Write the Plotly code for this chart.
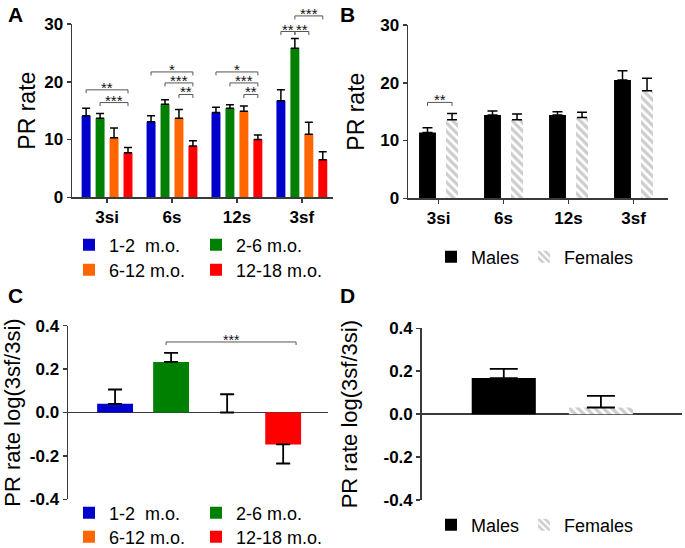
import plotly.graph_objects as go

W, H = 685, 548
FONT = "Liberation Sans, Arial, sans-serif"

# ---------------- data ----------------
sessions = ["3si", "6s", "12s", "3sf"]
age_groups = ["1-2\u00a0 m.o.", "2-6 m.o.", "6-12 m.o.", "12-18 m.o."]
age_colors = ["#0000CC", "#008000", "#FF6600", "#FF0000"]

# Panel A: PR rate per session for each age group (mean, SEM)
a_rate_1_2 = [14.1, 13.1, 14.7, 16.7]
a_err_1_2 = [1.3, 1.0, 0.9, 1.9]
a_rate_2_6 = [13.7, 16.1, 15.4, 25.8]
a_err_2_6 = [0.8, 0.8, 0.6, 1.7]
a_rate_6_12 = [10.3, 13.7, 14.9, 10.9]
a_err_6_12 = [1.7, 1.5, 0.9, 2.1]
a_rate_12_18 = [7.7, 8.9, 10.0, 6.5]
a_err_12_18 = [0.9, 0.9, 0.8, 1.4]

# Panel B: PR rate per session by sex
sexes = ["Males", "Females"]
b_males = [11.4, 14.4, 14.4, 20.5]
b_males_err = [0.8, 0.7, 0.6, 1.6]
b_females = [13.6, 13.6, 14.0, 18.6]
b_females_err = [1.1, 1.0, 0.9, 2.2]

# Panel C: log(3sf/3si) by age group
c_ratio = [0.04, 0.233, 0.0, -0.147]
c_err = [0.066, 0.042, 0.084, 0.088]

# Panel D: log(3sf/3si) by sex
d_ratio = [0.168, 0.031]
d_err = [0.043, 0.054]

# significance: (session index, group from, group to, bracket level, label)
a_sig = [
    (0, 0, 3, 18.6, "**"), (0, 1, 3, 16.4, "***"),
    (1, 0, 3, 21.7, "*"), (1, 1, 3, 19.8, "***"), (1, 2, 3, 17.8, "**"),
    (2, 0, 3, 21.7, "*"), (2, 1, 3, 19.8, "***"), (2, 2, 3, 17.8, "**"),
    (3, 0, 1, 28.7, "**"), (3, 1, 2, 28.7, "**"), (3, 1, 3, 31.4, "***"),
]
b_sig = [(0, 16.6, "**")]
c_sig = [(0.91, 3.23, 0.325, "***")]

RATE_RANGE = [0, 30]
RATIO_RANGE = [-0.4, 0.4]

# ---------------- helpers ----------------
def px(xp):
    return xp / W

def py(yp):
    return 1 - yp / H

def dom_frac(v, rng):
    return (v - rng[0]) / (rng[1] - rng[0])

AX = "#3a3a3a"
HATCH = dict(shape="\\", fgcolor="#9C9C9C", bgcolor="white", size=6,
             solidity=0.55, fillmode="overlay")

fig = go.Figure()

# ---------------- Panel A ----------------
A_START, A_SLOT, A_BW = -0.43, 0.215, 0.138
a_series = [(a_rate_1_2, a_err_1_2), (a_rate_2_6, a_err_2_6),
            (a_rate_6_12, a_err_6_12), (a_rate_12_18, a_err_12_18)]
a_center = []
for g, (vals, errs) in enumerate(a_series):
    off = A_START + A_SLOT * g + (A_SLOT - A_BW) / 2
    a_center.append(off + A_BW / 2)
    fig.add_trace(go.Bar(
        x=sessions, y=vals, width=A_BW, offset=off, name=age_groups[g],
        marker=dict(color=age_colors[g], line_width=0),
        error_y=dict(type="data", symmetric=False, array=errs,
                     arrayminus=[0] * len(errs), color="black",
                     thickness=1.5, width=4),
        xaxis="x", yaxis="y", legend="legend" if g < 2 else "legend2"))

# ---------------- Panel B ----------------
B_M_OFF, B_M_W = -0.30, 0.26
B_F_OFF, B_F_W = 0.115, 0.185
fig.add_trace(go.Bar(
    x=sessions, y=b_males, width=B_M_W, offset=B_M_OFF, name=sexes[0],
    marker=dict(color="black", line_width=0),
    error_y=dict(type="data", symmetric=False, array=b_males_err,
                 arrayminus=[0] * 4, color="black", thickness=1.5, width=5),
    xaxis="x2", yaxis="y2", legend="legend3"))
fig.add_trace(go.Bar(
    x=sessions, y=b_females, width=B_F_W, offset=B_F_OFF, name=sexes[1],
    marker=dict(color="white", line_width=0, pattern=HATCH),
    error_y=dict(type="data", symmetric=False, array=b_females_err,
                 arrayminus=[0] * 4, color="black", thickness=1.5, width=5),
    xaxis="x2", yaxis="y2", legend="legend3"))

# ---------------- Panel C ----------------
C_BW = 0.64
for g in range(4):
    v, e = c_ratio[g], c_err[g]
    up, down = (e, 0) if v >= 0 else (0, e)
    fig.add_trace(go.Bar(
        x=[age_groups[g]], y=[v], width=C_BW, offset=-C_BW / 2,
        name=age_groups[g], marker=dict(color=age_colors[g], line_width=0),
        error_y=dict(type="data", symmetric=False, array=[up],
                     arrayminus=[down], color="black", thickness=1.8, width=7),
        xaxis="x3", yaxis="y3", legend="legend4" if g < 2 else "legend5"))

# ---------------- Panel D ----------------
D_BW = 0.66
fig.add_trace(go.Bar(
    x=[sexes[0]], y=[d_ratio[0]], width=D_BW, offset=-D_BW / 2, name=sexes[0],
    marker=dict(color="black", line_width=0),
    error_y=dict(type="data", symmetric=False, array=[d_err[0]],
                 arrayminus=[0], color="black", thickness=1.8, width=14),
    xaxis="x4", yaxis="y4", legend="legend6"))
fig.add_trace(go.Bar(
    x=[sexes[1]], y=[d_ratio[1]], width=D_BW, offset=-D_BW / 2, name=sexes[1],
    marker=dict(color="white", line_width=0, pattern=HATCH),
    error_y=dict(type="data", symmetric=False, array=[d_err[1]],
                 arrayminus=[0], color="black", thickness=1.8, width=14),
    xaxis="x4", yaxis="y4", legend="legend6"))

# ---------------- significance brackets ----------------
shapes = []
annotations = []
SIG_C = "#555555"

def bracket(xref, yref, rng, x0, x1, level, drop, label, size=15):
    y = dom_frac(level, rng)
    y0 = dom_frac(level - drop, rng)
    shapes.append(dict(type="path", xref=xref, yref=yref + " domain",
                       path=f"M {x0},{y0} L {x0},{y} L {x1},{y} L {x1},{y0}",
                       line=dict(color=SIG_C, width=1)))
    annotations.append(dict(x=(x0 + x1) / 2, y=y, xref=xref,
                            yref=yref + " domain",
                            text=label, showarrow=False, yanchor="bottom",
                            yshift=-8, font=dict(family=FONT, size=size,
                                                 color="#111111")))

for s, g0, g1, lvl, lab in a_sig:
    bracket("x", "y", RATE_RANGE, s + a_center[g0], s + a_center[g1],
            lvl, 0.6, lab)
for s, lvl, lab in b_sig:
    bracket("x2", "y2", RATE_RANGE, s + B_M_OFF + B_M_W / 2,
            s + B_F_OFF + B_F_W / 2, lvl, 0.6, lab)
for x0, x1, lvl, lab in c_sig:
    bracket("x3", "y3", RATIO_RANGE, x0, x1, lvl, 0.014, lab, size=14)

# ---------------- panel letters ----------------
for lab, xp, yp in [("A", 16, 14), ("B", 348, 14), ("C", 15, 295), ("D", 348, 295)]:
    annotations.append(dict(x=px(xp), y=py(yp), xref="paper", yref="paper",
                            text=lab, showarrow=False, xanchor="center",
                            yanchor="middle",
                            font=dict(family=FONT, size=21, color="black",
                                      weight="bold")))

# ---------------- axes ----------------
tickf = dict(family=FONT, size=17, color="black", weight="bold")

def xax(dom, rng, anchor, visible=True):
    return dict(domain=[px(dom[0]), px(dom[1])], range=rng, type="category",
                anchor=anchor, showline=visible, linecolor=AX, linewidth=1.5,
                ticks="outside" if visible else "", ticklen=4, tickwidth=1.5,
                tickcolor=AX, showticklabels=visible, tickfont=tickf,
                showgrid=False, zeroline=False, fixedrange=True)

def yax(dom, rng, anchor, title, tickvals, ticktext, zeroline=False, tsize=23,
        standoff=6):
    return dict(domain=[py(dom[1]), py(dom[0])], range=rng, anchor=anchor,
                showline=True, linecolor=AX, linewidth=1.5, ticks="outside",
                ticklen=4, tickwidth=1.5, tickcolor=AX, tickfont=tickf,
                tickvals=tickvals, ticktext=ticktext, showgrid=False,
                zeroline=zeroline, zerolinecolor=AX, zerolinewidth=1.5,
                automargin=False, fixedrange=True,
                title=dict(text=title, font=dict(family=FONT, size=tsize,
                                                 color="black"),
                           standoff=standoff))

rate_ticks = [0, 10, 20, 30]
ratio_ticks = [-0.4, -0.2, 0.0, 0.2, 0.4]
ratio_text = ["-0.4", "-0.2", "0.0", "0.2", "0.4"]

def leg(xp, yp, ew=82):
    return dict(x=px(xp), y=py(yp), xanchor="left", yanchor="middle",
                orientation="h", bgcolor="rgba(0,0,0,0)",
                font=dict(family=FONT, size=18, color="black"),
                entrywidth=ew, entrywidthmode="pixels", itemclick=False,
                itemdoubleclick=False, tracegroupgap=0)

fig.update_layout(
    width=W, height=H,
    margin=dict(l=0, r=0, t=0, b=0, pad=0, autoexpand=False),
    paper_bgcolor="white", plot_bgcolor="white",
    barmode="overlay", showlegend=True,
    font=dict(family=FONT, color="black"),
    xaxis=xax((72, 333), [-0.54, 3.48], "y"),
    yaxis=yax((24, 197.3), RATE_RANGE, "x", "PR rate", rate_ticks,
              [str(t) for t in rate_ticks], standoff=2),
    xaxis2=xax((408, 668), [-0.47, 3.53], "y2"),
    yaxis2=yax((25, 198.3), RATE_RANGE, "x2", "PR rate", rate_ticks,
               [str(t) for t in rate_ticks], standoff=9),
    xaxis3=xax((68, 328), [-0.84, 3.8], "y3", visible=False),
    yaxis3=yax((325.7, 499.3), RATIO_RANGE, "x3", "PR rate log(3sf/3si)",
               ratio_ticks, ratio_text, zeroline=True, tsize=22, standoff=6),
    xaxis4=xax((421.7, 682), [-0.845, 1.835], "y4", visible=False),
    yaxis4=yax((328.3, 500), RATIO_RANGE, "x4", "PR rate log(3sf/3si)",
               ratio_ticks, ratio_text, zeroline=True, tsize=22, standoff=20),
    legend=leg(69, 245), legend2=leg(69, 270), legend3=leg(431, 257, 0),
    legend4=leg(69, 513), legend5=leg(69, 537), legend6=leg(431, 525, 0),
    shapes=shapes, annotations=annotations,
)

fig.write_html("out.html",
               config={"displayModeBar": False, "staticPlot": True},
               post_script="document.body.style.margin='0';"
                           "document.body.style.overflow='hidden';")
